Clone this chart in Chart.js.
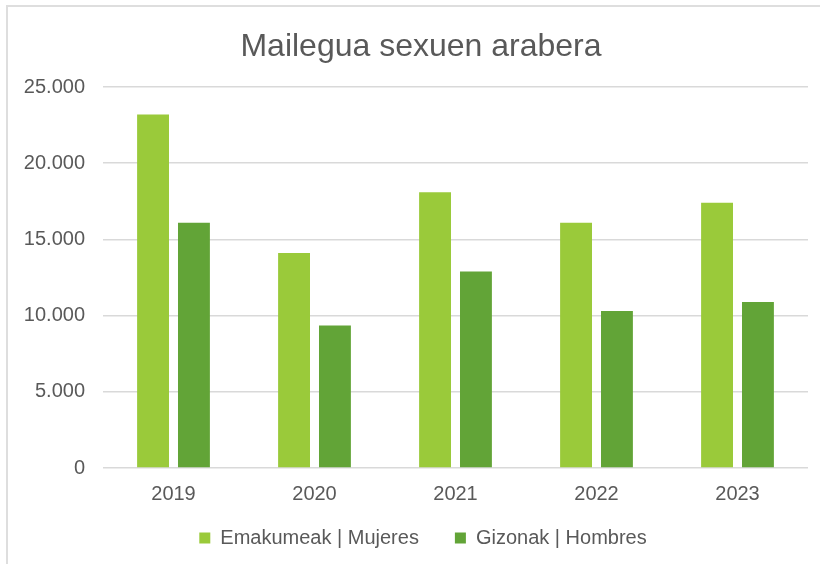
<!DOCTYPE html>
<html>
<head>
<meta charset="utf-8">
<script src="https://cdn.jsdelivr.net/npm/chart.js@4/dist/chart.umd.min.js"></script>
<style>
    html, body { margin: 0; padding: 0; background: #fff; overflow: hidden; }
    #frame {
        position: absolute; left: 6px; top: 5px; width: 840px; height: 600px;
        border-left: 2px solid #DEDEDE; border-top: 2px solid #DEDEDE;
    }
    #wrap { position: absolute; left: 0; top: 0; width: 820px; height: 564px; }
</style>
</head>
<body>
<div id="frame"></div>
<div id="wrap"><canvas id="chart" width="820" height="564"></canvas></div>
<script>
// data
const years = ['2019', '2020', '2021', '2022', '2023']
const womenValues = [23200, 14100, 18100, 16100, 17400]
const menValues = [16100, 9350, 12900, 10300, 10900]
const seriesNames = ['Emakumeak | Mujeres', 'Gizonak | Hombres']
const yTicks = [0, 5000, 10000, 15000, 20000, 25000]

const textColor = '#595959'
const lightGreen = '#9ACA3A'
const darkGreen = '#62A437'
const fontFamily = 'Liberation Sans'

function formatThousands(v){
    return String(v).replace(/\B(?=(\d{3})+(?!\d))/g, '.')
}

// title and legend sit a bit off the default spots in the original
const nudgeBlocks = {
    id: 'nudgeBlocks',
    afterLayout(chart){
        const t = chart.titleBlock
        t.left += 17; t.right += 17
        const lg = chart.legend
        const dy = chart.chartArea.bottom + 24 - lg.top
        lg.top += dy; lg.bottom += dy
        lg.left += 19; lg.right += 19
    }
}

new Chart(document.getElementById('chart'), {
    type: 'bar',
    data: {
        labels: years,
        datasets: [
            {
                label: seriesNames[0],
                data: womenValues,
                backgroundColor: lightGreen,
                categoryPercentage: 0.58,
                barPercentage: 0.78
            },
            {
                label: seriesNames[1],
                data: menValues,
                backgroundColor: darkGreen,
                categoryPercentage: 0.58,
                barPercentage: 0.78
            }
        ]
    },
    options: {
        responsive: false,
        animation: false,
        layout: { padding: { left: 0, right: 12, top: 0, bottom: -14 } },
        scales: {
            x: {
                grid: { display: false },
                border: { display: false },
                ticks: { color: textColor, padding: 6, font: { family: fontFamily, size: 20 } }
            },
            y: {
                min: 0,
                max: 25000,
                afterFit: scale => { scale.width = 103 },
                afterBuildTicks: scale => { scale.ticks = yTicks.map(v => ({ value: v })) },
                grid: { color: '#D9D9D9', lineWidth: 1.5, drawTicks: false },
                border: { display: false },
                ticks: {
                    color: textColor,
                    padding: 18,
                    font: { family: fontFamily, size: 20 },
                    callback: value => formatThousands(value)
                }
            }
        },
        plugins: {
            title: {
                display: true,
                text: 'Mailegua sexuen arabera',
                color: textColor,
                font: { family: fontFamily, size: 32, weight: 'normal' },
                padding: { top: 28, bottom: 20.6 }
            },
            legend: {
                position: 'bottom',
                labels: {
                    color: textColor,
                    boxWidth: 11,
                    boxHeight: 11,
                    padding: 36,
                    font: { family: fontFamily, size: 20 }
                }
            },
            tooltip: { enabled: false }
        }
    },
    plugins: [nudgeBlocks]
})
</script>
</body>
</html>
